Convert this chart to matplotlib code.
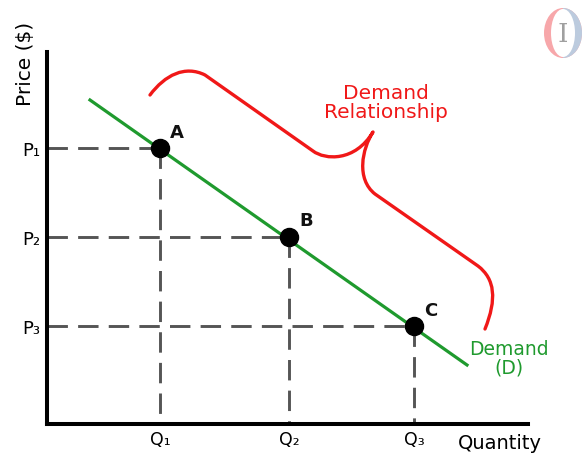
import matplotlib

matplotlib.use("Agg")
import matplotlib.pyplot as plt
from matplotlib.path import Path
from matplotlib.patches import PathPatch, Ellipse, Rectangle

# demand schedule (plot units: 1 unit = 100 px from origin)
points = ["A", "B", "C"]
quantity = [1.13, 2.42, 3.67]
price = [2.76, 1.87, 0.98]
q_labels = ["Q₁", "Q₂", "Q₃"]
p_labels = ["P₁", "P₂", "P₃"]

# demand line end points
demand_q = [0.43, 4.20]
demand_p = [3.24, 0.59]

# curly bracket "Demand Relationship" (path vertices in plot units)
brace_xy = [
    (1.03, 3.29),
    (1.18, 3.49), (1.38, 3.59), (1.58, 3.49),
    (2.66, 2.73),
    (2.78, 2.64), (3.08, 2.62), (3.26, 2.92),
    (3.15, 2.75), (3.09, 2.45), (3.28, 2.30),
    (4.31, 1.58),
    (4.48, 1.45), (4.50, 1.25), (4.38, 0.95),
]
brace_codes = [Path.MOVETO] + [Path.CURVE4] * 3 + [Path.LINETO] + [Path.CURVE4] * 6 \
    + [Path.LINETO] + [Path.CURVE4] * 3

green = "#1f9a2e"
red = "#f01818"
dash_gray = "#555555"

fig = plt.figure(figsize=(5.84, 4.56), dpi=100)
ax = fig.add_axes([47 / 584, 31 / 456, 481 / 584, 372 / 456])
ax.set_xlim(0, 4.81)
ax.set_ylim(0, 3.72)
for side in ["top", "right"]:
    ax.spines[side].set_visible(False)
for side in ["left", "bottom"]:
    ax.spines[side].set_linewidth(2.9)
    ax.spines[side].set_color("black")
    ax.spines[side].set_capstyle("projecting")

ax.set_xticks(quantity, q_labels)
ax.set_yticks(price, p_labels)
ax.tick_params(axis="x", length=0, pad=4, labelsize=12.5)
ax.tick_params(axis="y", length=0, pad=5, labelsize=13)

# guide lines from each point to the axes
for q, p in zip(quantity, price):
    ax.plot([0, q], [p, p], color=dash_gray, lw=2.1, dashes=(7, 3.5), zorder=2)
    ax.plot([q, q], [p, 0], color=dash_gray, lw=2.1, dashes=(7, 3.5), zorder=2)

ax.plot(demand_q, demand_p, color=green, lw=2.3, zorder=3)
ax.plot(quantity, price, "o", color="black", markersize=13, zorder=4)
for name, q, p in zip(points, quantity, price):
    ax.text(q + 0.17, p + 0.165, name, fontsize=13, fontweight="bold",
            ha="center", va="center", color="#111111")

brace = PathPatch(Path(brace_xy, brace_codes), facecolor="none", edgecolor=red,
                  lw=2.4, capstyle="round", joinstyle="round")
ax.add_patch(brace)
ax.text(3.39, 3.22, "Demand\nRelationship", color=red, fontsize=14.5,
        ha="center", va="center", linespacing=0.95)
ax.text(4.62, 0.66, "Demand\n(D)", color=green, fontsize=13.5,
        ha="center", va="center", linespacing=0.95)

ax.text(4.53, -0.19, "Quantity", fontsize=14, ha="center", va="center", clip_on=False)
fig.text(25 / 584, 1 - 64 / 456, "Price ($)", rotation=90, fontsize=14.5,
         ha="center", va="center")

# faint logo in the corner
logo = fig.add_axes([538 / 584, 1 - 62 / 456, 46 / 584, 56 / 456])
logo.set_xlim(0, 46)
logo.set_ylim(0, 56)
logo.axis("off")
logo.add_patch(Ellipse((25, 28), 38, 50, color="#f7a7aa", lw=0))
half = Rectangle((25, 0), 30, 56, transform=logo.transData)
blue = Ellipse((25, 28), 38, 50, color="#bccbde", lw=0)
logo.add_patch(blue)
blue.set_clip_path(half)
logo.add_patch(Ellipse((25, 28), 24, 48, color="white", lw=0))
logo.text(25, 27, "I", fontsize=19, color="#a0a0a0", family="DejaVu Serif",
          ha="center", va="center")

fig.savefig("out.png", dpi=100)
